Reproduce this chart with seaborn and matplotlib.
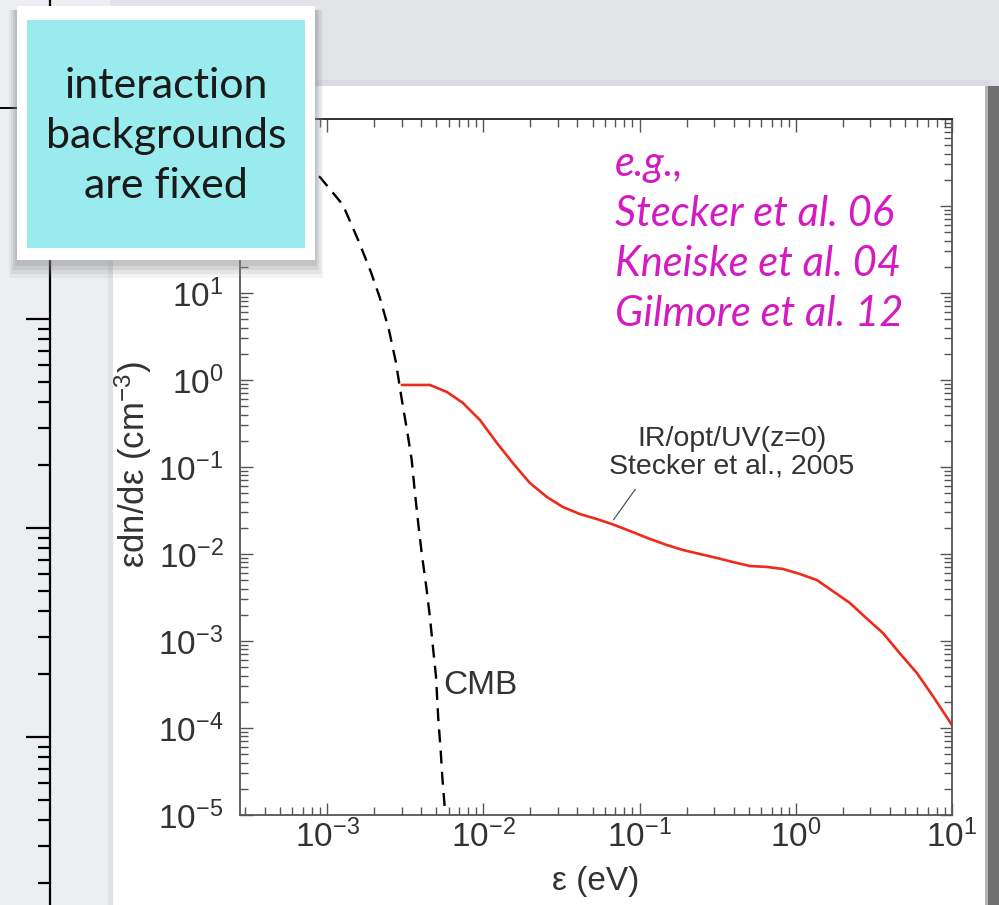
import numpy as np
import pandas as pd
import matplotlib
matplotlib.use("Agg")
import matplotlib.pyplot as plt
import seaborn as sns
from matplotlib.patches import Rectangle
from matplotlib.lines import Line2D
from matplotlib.ticker import LogLocator, NullFormatter, FixedLocator, FixedFormatter

# ---------------- data ----------------
ir_energy_ev = [3.01e-3, 4.55e-3, 5.85e-3, 7.40e-3, 9.51e-3, 0.01222, 0.01545,
                0.01986, 0.02553, 0.03228, 0.04150, 0.05333, 0.06653, 0.08670,
                0.1164, 0.1496, 0.1892, 0.2432, 0.3126, 0.3954, 0.5082, 0.6531,
                0.8260, 1.062, 1.365, 2.218, 2.84, 3.606, 4.64, 5.957, 7.59, 10.0]
ir_density = [0.877, 0.877, 0.728, 0.545, 0.347, 0.189, 0.111,
              0.0655, 0.0452, 0.0347, 0.0288, 0.0252, 0.0221, 0.0184,
              0.0149, 0.01268, 0.01112, 0.0100, 0.00900, 0.00809, 0.00728, 0.00710,
              0.00673, 0.00589, 0.00502, 0.00274, 0.00182, 0.00124, 7.2e-4, 4.29e-4,
              2.29e-4, 1.08e-4]

cmb_energy_ev = [2.76e-4, 4.31e-4, 6.60e-4, 9.00e-4, 1.262e-3, 1.600e-3, 1.907e-3,
                 2.178e-3, 2.488e-3, 2.755e-3, 3.01e-3, 3.27e-3, 3.48e-3, 3.65e-3,
                 3.83e-3, 4.03e-3, 4.34e-3, 4.55e-3, 4.78e-3, 4.98e-3, 5.14e-3,
                 5.33e-3, 5.48e-3, 5.68e-3]
cmb_density = [127, 199, 246, 215, 103, 38.6, 17.4,
               8.77, 3.76, 1.61, 0.589, 0.246, 0.120, 0.0502,
               0.0227, 0.0103, 3.85e-3, 1.89e-3, 7.89e-4, 3.85e-4, 1.34e-4,
               5.58e-5, 2.52e-5, 1.14e-5]

ir_label = "IR/opt/UV(z=0)\nStecker et al., 2005"
cmb_label = "CMB"
reference_lines = ["e.g.,", "Stecker et al. 06", "Kneiske et al. 04", "Gilmore et al. 12"]
box_lines = ["interaction", "backgrounds", "are fixed"]
x_label = "ε (eV)"
y_label = "εdn/dε (cm$^{-3}$)"
x_limits = (2.77e-4, 10.0)
y_limits = (1e-5, 1e3)
x_tick_values = [1e-3, 1e-2, 1e-1, 1e0, 1e1]
x_tick_labels = ["10$^{-3}$", "10$^{-2}$", "10$^{-1}$", "10$^{0}$", "10$^{1}$"]
y_tick_values = [1e-5, 1e-4, 1e-3, 1e-2, 1e-1, 1e0, 1e1, 1e2, 1e3]
# the two top labels sit behind the callout box in the reference
y_tick_labels = ["10$^{-5}$", "10$^{-4}$", "10$^{-3}$", "10$^{-2}$", "10$^{-1}$",
                 "10$^{0}$", "10$^{1}$", "", ""]

# ---------------- style ----------------
sns.set_style("ticks")
plt.rcParams["font.family"] = ["Liberation Sans", "DejaVu Sans"]
plt.rcParams["mathtext.default"] = "regular"

W, H = 999, 905
fig = plt.figure(figsize=(W / 100, H / 100), dpi=100)
fig.patch.set_facecolor("#e2e4e8")


def rect(x0, y0, x1, y1, color, z, alpha=1.0):
    fig.add_artist(Rectangle((x0 / W, 1 - y1 / H), (x1 - x0) / W, (y1 - y0) / H,
                             transform=fig.transFigure, facecolor=color,
                             edgecolor="none", zorder=z, alpha=alpha))


# slide background pieces
rect(0, 0, 110, 905, "#eceef1", -20)
rect(113, 80, 990, 86, "#d9dbdf", -19)
rect(108, 86, 113, 905, "#dfe1e4", -19)
rect(113, 86, 985, 905, "white", -18)
rect(985, 86, 988, 905, "#b3b3b3", -18)
rect(988, 86, 999, 905, "#707070", -18)

# axis of the slide element behind (left strip)
bg = fig.add_axes([50 / W, 0, 0.0005, 1], zorder=-15)
bg.set_yscale("log")
bg.set_ylim(10 ** -0.804, 10 ** 3.526)
bg.patch.set_visible(False)
for side in ["top", "right", "bottom"]:
    bg.spines[side].set_visible(False)
bg.spines["left"].set_color("black")
bg.spines["left"].set_linewidth(1.6)
bg.xaxis.set_visible(False)
bg.yaxis.set_major_locator(LogLocator(base=10, numticks=20))
bg.yaxis.set_minor_locator(LogLocator(base=10, subs=np.arange(2, 10) * 1.0, numticks=100))
bg.yaxis.set_major_formatter(NullFormatter())
bg.yaxis.set_minor_formatter(NullFormatter())
bg.tick_params(axis="y", which="major", length=17, width=1.6, direction="out",
               color="black", labelleft=False)
bg.tick_params(axis="y", which="minor", length=8.6, width=1.6, direction="out",
               color="black", labelleft=False)
fig.add_artist(Line2D([0, 50 / W], [1 - 108 / H] * 2, color="black", lw=1.4,
                      transform=fig.transFigure, zorder=-15))

# ---------------- main chart ----------------
ax = fig.add_axes([240 / W, 1 - 815 / H, 712 / W, 696 / H])
ax.set_xscale("log")
ax.set_yscale("log")

df_ir = pd.DataFrame({"energy": ir_energy_ev, "density": ir_density})
df_cmb = pd.DataFrame({"energy": cmb_energy_ev, "density": cmb_density})

sns.lineplot(data=df_ir, x="energy", y="density", ax=ax, color="#ee2a1a",
             lw=1.9, estimator=None)
sns.lineplot(data=df_cmb, x="energy", y="density", ax=ax, color="black",
             lw=1.7, estimator=None, linestyle=(0, (5.5, 3.5)))

ax.set_xlim(*x_limits)
ax.set_ylim(*y_limits)

for s in ax.spines.values():
    s.set_visible(True)
    s.set_color("#555555")
    s.set_linewidth(1.3)
ax.spines["top"].set_color("#222222")

ax.xaxis.set_major_locator(FixedLocator(x_tick_values))
ax.xaxis.set_major_formatter(FixedFormatter(x_tick_labels))
ax.yaxis.set_major_locator(FixedLocator(y_tick_values))
ax.yaxis.set_major_formatter(FixedFormatter(y_tick_labels))
for axis in (ax.xaxis, ax.yaxis):
    axis.set_minor_locator(LogLocator(base=10, subs=np.arange(2, 10) * 1.0, numticks=100))
    axis.set_minor_formatter(NullFormatter())

ax.tick_params(which="both", direction="in", top=True, right=True,
               color="#555555", width=1.0, labelsize=24, labelcolor="#333333")
ax.tick_params(which="major", length=9)
ax.tick_params(which="minor", length=5.5)
ax.tick_params(axis="x", which="major", pad=3)
ax.tick_params(axis="y", which="major", pad=12)

ax.set_xlabel(x_label, fontsize=24, color="#333333", va="center")
ax.xaxis.set_label_coords(0.5, -0.096)
ax.set_ylabel(y_label, fontsize=25, color="#333333", va="center")
ax.yaxis.set_label_coords(-0.150, 0.503)

ax.text(5.52e-3, 3.12e-4, cmb_label, fontsize=24, color="#333333",
        ha="left", va="center")
ax.annotate("", xy=(0.0665, 0.0233), xytext=(0.0962, 0.0589),
            arrowprops=dict(arrowstyle="-", color="#555555", lw=0.9))
ax.text(0.391, 0.145, ir_label, fontsize=20.5, color="#333333",
        ha="center", va="center", linespacing=1.05)

# references in magenta
fig.text(615 / W, 1 - 239 / H, "\n".join(reference_lines), fontsize=30,
         family=["Lato", "DejaVu Sans"], style="italic", color="#d41bc2",
         ha="left", va="center", linespacing=1.39, zorder=5)

# callout box
for i, a in enumerate([0.10, 0.14, 0.18, 0.22]):
    d = 4 * (4 - i)
    rect(17 - d / 2, 10, 315 + d / 2, 262 + d, "#8a8c90", 5, alpha=a)
rect(17, 6, 315, 260, "white", 6)
rect(27, 20, 305, 248, "#99ebed", 7)
fig.text(166 / W, 1 - 136 / H, "\n".join(box_lines), fontsize=31,
         family=["Lato", "DejaVu Sans"], weight="normal", color="#1a1a1a",
         ha="center", va="center", linespacing=1.38, zorder=8)

fig.savefig("out.png", dpi=100, facecolor=fig.get_facecolor())
